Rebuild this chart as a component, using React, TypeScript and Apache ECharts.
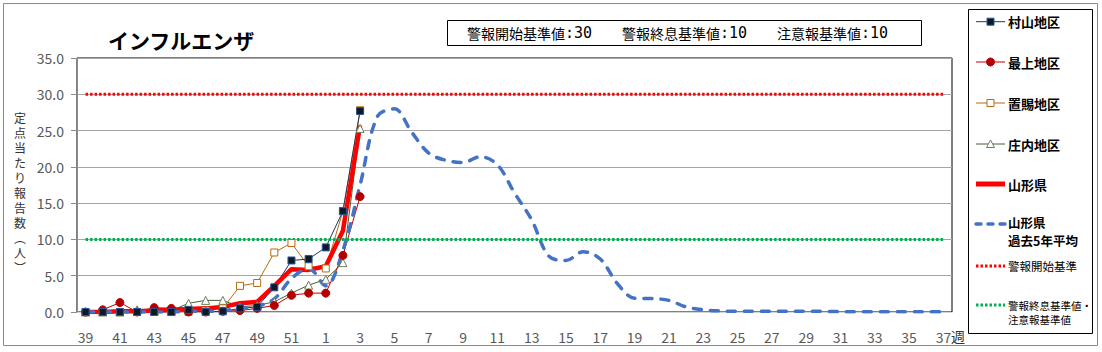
import React, { useEffect, useRef } from "react";
import * as echarts from "echarts";

const weeks = [
  "39", "40", "41", "42", "43", "44", "45", "46", "47", "48", "49", "50", "51", "52",
  "1", "2", "3", "4", "5", "6", "7", "8", "9", "10", "11", "12", "13", "14", "15", "16",
  "17", "18", "19", "20", "21", "22", "23", "24", "25", "26", "27", "28", "29", "30",
  "31", "32", "33", "34", "35", "36", "37",
];

const murayama = [0, 0, 0, 0, 0, 0, 0.3, 0, 0.1, 0.5, 0.7, 3.4, 7.1, 7.3, 8.9, 13.9, 27.7];
const mogami = [0, 0.3, 1.3, 0, 0.6, 0.5, 0, 0, 0.1, 0.2, 0.5, 0.9, 2.3, 2.6, 2.6, 7.8, 15.9];
const okitama = [0, 0, 0, 0, 0, 0, 0, 0.2, 0.5, 3.6, 4.0, 8.2, 9.5, 6.3, 6.0, 13.9, 27.8];
const shonai = [0, 0, 0, 0.3, 0.2, 0.2, 1.2, 1.6, 1.6, 0.7, 0.9, 1.4, 2.6, 3.7, 4.5, 6.8, 25.3];
const yamagata = [0, 0, 0.1, 0.1, 0.2, 0.3, 0.4, 0.5, 0.7, 1.2, 1.4, 3.6, 5.9, 5.8, 6.3, 11.2, 25.7];
const avg5 = [
  0, 0, 0, 0, 0, 0, 0.1, 0.1, 0.2, 0.5,
  0.8, 1.8, 4.6, 6.0, 3.6, 8.5, 17.5, 26.9, 28.0, 24.8,
  21.9, 20.9, 20.6, 21.4, 20.3, 16.4, 12.7, 7.7, 7.1, 8.3,
  7.3, 3.9, 1.9, 1.85, 1.6, 0.7, 0.3, 0.15, 0.1, 0.1,
  0.1, 0.1, 0.1, 0.1, 0.05, 0.05, 0.05, 0.05, 0.05, 0.05, 0.05,
];

const ALERT_START = 30;
const ALERT_END = 10;
const ADVISORY = 10;
const yTicks = { min: 0, max: 35, interval: 5 };
const yAxisNameChars = ["定", "点", "当", "た", "り", "報", "告", "数", "︵", "人", "︶"];

const FONT = "'Noto Sans CJK JP', sans-serif";
const MONO = "'DejaVu Sans Mono', monospace";

const C_MURA = "#1f3864";
const C_MOGA = "#c00000";
const C_OKI = "#b8690f";
const C_SHO = "#43612f";
const C_KEN = "#ff0000";
const C_AVG = "#4472c4";
const C_RED_DOT = "#ff0000";
const C_GREEN_DOT = "#00b050";

export default function App() {
  const ref = useRef<HTMLDivElement>(null);

  useEffect(() => {
    if (!ref.current) return;
    const chart = echarts.init(ref.current, null, { renderer: "svg" });

    const lx1 = 976;
    const lx2 = 1005;
    const mx = 990.5;
    const tx = 1008;
    const rows = [21.7, 62, 103, 144, 184, 224, 266, 305];

    const legendText = (y: number, text: string, bold: boolean, size: number) => ({
      type: "text",
      x: tx,
      y,
      style: {
        text,
        fill: "#000",
        font: `${bold ? "bold " : ""}${size}px ${FONT}`,
        verticalAlign: "middle",
        align: "left",
      },
      z: 100,
    });
    const legendLine = (y: number, color: string, width: number, dash?: number[], round?: boolean) => ({
      type: "line",
      shape: { x1: lx1, y1: y, x2: lx2, y2: y },
      style: { stroke: color, lineWidth: width, lineDash: dash, lineCap: round ? "round" : "butt" },
      z: 100,
    });
    const criterion = (x: number, label: string, value: number) => ({
      type: "text",
      left: x,
      top: 25,
      style: {
        text: `{a|${label}}{b|:${value}}`,
        rich: {
          a: { fontFamily: FONT, fontSize: 14, fill: "#000", color: "#000" },
          b: { fontFamily: MONO, fontSize: 15, fill: "#000", color: "#000" },
        },
      },
      z: 51,
    });

    const yNameTexts = yAxisNameChars.map((ch, i) => ({
      type: "text",
      x: 20,
      y: 117 + i * 15,
      style: {
        text: ch,
        fill: "#333",
        font: `12px ${FONT}`,
        align: "center",
        verticalAlign: "middle",
      },
    }));

    const graphic: any[] = [
      {
        type: "rect",
        shape: { x: 3.5, y: 3.5, width: 1094, height: 342 },
        style: { fill: "none", stroke: "#8a8a8a", lineWidth: 1 },
        z: -10,
      },
      {
        type: "rect",
        shape: { x: 447.5, y: 20.5, width: 474, height: 25 },
        style: { fill: "#fff", stroke: "#000", lineWidth: 1 },
        z: 50,
      },
      criterion(467, "警報開始基準値", ALERT_START),
      criterion(622, "警報終息基準値", ALERT_END),
      criterion(777, "注意報基準値", ADVISORY),
      ...yNameTexts,
      {
        type: "text",
        left: 951,
        top: 329,
        style: { text: "週", fill: "#333", font: `14px ${FONT}` },
      },
      {
        type: "rect",
        shape: { x: 968.5, y: 9.5, width: 124, height: 324 },
        style: { fill: "#fff", stroke: "#000", lineWidth: 1 },
        z: 90,
      },
      legendLine(rows[0], C_MURA, 1),
      {
        type: "rect",
        shape: { x: mx - 3.5, y: rows[0] - 3.5, width: 7, height: 7 },
        style: { fill: "#0d1a26", stroke: "#2f5597", lineWidth: 1 },
        z: 101,
      },
      legendText(rows[0], "村山地区", true, 13),
      legendLine(rows[1], C_MOGA, 1),
      {
        type: "circle",
        shape: { cx: mx, cy: rows[1], r: 4 },
        style: { fill: "#b00000", stroke: C_MOGA, lineWidth: 1 },
        z: 101,
      },
      legendText(rows[1], "最上地区", true, 13),
      legendLine(rows[2], C_OKI, 1),
      {
        type: "rect",
        shape: { x: mx - 3.5, y: rows[2] - 3.5, width: 7, height: 7 },
        style: { fill: "#fff", stroke: C_OKI, lineWidth: 1 },
        z: 101,
      },
      legendText(rows[2], "置賜地区", true, 13),
      legendLine(rows[3], C_SHO, 1),
      {
        type: "polygon",
        shape: { points: [[mx, rows[3] - 4], [mx + 4, rows[3] + 3.5], [mx - 4, rows[3] + 3.5]] },
        style: { fill: "#fff", stroke: "#6b7f5c", lineWidth: 1 },
        z: 101,
      },
      legendText(rows[3], "庄内地区", true, 13),
      legendLine(rows[4], C_KEN, 5),
      legendText(rows[4], "山形県", true, 13),
      legendLine(rows[5], C_AVG, 3.5, [5, 7], true),
      legendText(rows[5] - 1.5, "山形県", true, 12.5),
      legendText(rows[5] + 16.5, "過去5年平均", true, 12.5),
      legendLine(rows[6], C_RED_DOT, 3, [2.5, 2]),
      legendText(rows[6], "警報開始基準", false, 11.5),
      legendLine(rows[7], C_GREEN_DOT, 3, [2.5, 2]),
      legendText(rows[7], "警報終息基準値・", false, 10.5),
      legendText(rows[7] + 14.5, "注意報基準値", false, 10.5),
    ];

    const regionLine = (
      name: string,
      data: number[],
      lineColor: string,
      symbol: string,
      size: number,
      fill: string,
      border: string
    ) => ({
      name,
      type: "line",
      data,
      symbol,
      symbolSize: size,
      showAllSymbol: true,
      lineStyle: { color: lineColor, width: 1 },
      itemStyle: { color: fill, borderColor: border, borderWidth: 1 },
      emphasis: { disabled: true },
    });

    chart.setOption({
      animation: false,
      textStyle: { fontFamily: FONT },
      title: {
        text: "インフルエンザ",
        left: 103,
        top: 24,
        textStyle: { fontSize: 21, fontWeight: "bold", color: "#000", fontFamily: FONT },
      },
      grid: {
        left: 77,
        top: 58,
        right: 150,
        bottom: 40,
        show: true,
        borderColor: "#000",
        borderWidth: 1,
        backgroundColor: "transparent",
      },
      xAxis: {
        type: "category",
        data: weeks,
        boundaryGap: true,
        axisLine: { lineStyle: { color: "#d4d4d4", width: 1 } },
        axisTick: { show: false },
        axisLabel: {
          interval: 1,
          color: "#595959",
          fontSize: 14,
          margin: 18,
          fontFamily: FONT,
        },
        splitLine: { show: false },
      },
      yAxis: {
        type: "value",
        min: yTicks.min,
        max: yTicks.max,
        interval: yTicks.interval,
        axisLine: { show: true, lineStyle: { color: "#8c8c8c" } },
        axisTick: { show: true, length: 6, lineStyle: { color: "#8c8c8c" } },
        axisLabel: {
          color: "#595959",
          fontSize: 14,
          margin: 13,
          fontFamily: FONT,
          formatter: (v: number) => v.toFixed(1),
        },
        splitLine: { show: true, lineStyle: { color: "#a6a6a6", width: 1 } },
      },
      graphic,
      series: [
        regionLine("庄内地区", shonai, C_SHO, "triangle", 8, "#fff", "#6b7f5c"),
        regionLine("置賜地区", okitama, C_OKI, "rect", 7, "#fff", C_OKI),
        regionLine("最上地区", mogami, C_MOGA, "circle", 8, "#b00000", C_MOGA),
        regionLine("村山地区", murayama, C_MURA, "rect", 7, "#0d1a26", "#2f5597"),
        {
          name: "山形県",
          type: "line",
          data: yamagata,
          symbol: "none",
          lineStyle: { color: C_KEN, width: 4.5 },
          emphasis: { disabled: true },
        },
        {
          name: "山形県過去5年平均",
          type: "line",
          data: avg5,
          symbol: "none",
          smooth: 0.35,
          lineStyle: { color: C_AVG, width: 3.5, type: [8, 9], cap: "round" },
          emphasis: { disabled: true },
        },
        {
          name: "警報開始基準",
          type: "line",
          data: weeks.map(() => ALERT_START),
          symbol: "none",
          lineStyle: { color: C_RED_DOT, width: 3, type: [2.5, 2] },
          emphasis: { disabled: true },
        },
        {
          name: "警報終息基準値・注意報基準値",
          type: "line",
          data: weeks.map(() => ALERT_END),
          symbol: "none",
          lineStyle: { color: C_GREEN_DOT, width: 3, type: [2.5, 2] },
          emphasis: { disabled: true },
        },
      ],
    });

    return () => chart.dispose();
  }, []);

  return (
    <div
      ref={ref}
      style={{ position: "absolute", left: 0, top: 0, width: 1102, height: 352, background: "#fff" }}
    />
  );
}
